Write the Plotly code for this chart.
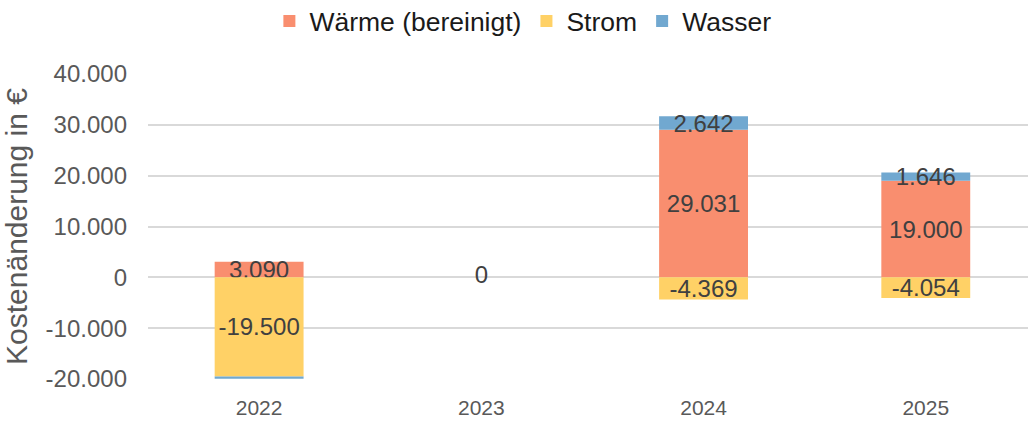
import plotly.graph_objects as go

years = ["2022", "2023", "2024", "2025"]
waerme = [3090, 0, 29031, 19000]
strom = [-19500, 0, -4369, -4054]
wasser = [-450, 0, 2642, 1646]
# labels shown in the bars ("" = no label)
waerme_lbl = ["3.090", "", "29.031", "19.000"]
strom_lbl = ["-19.500", "", "-4.369", "-4.054"]
wasser_lbl = ["", "", "2.642", "1.646"]
# the empty year only gets a "0"
zero_year = ["2023"]
zero_val = [0]
zero_lbl = ["0"]

y_ticks = [-20000, -10000, 0, 10000, 20000, 30000, 40000]
y_ticktext = ["-20.000", "-10.000", "0", "10.000", "20.000", "30.000", "40.000"]

col = {
    "Wärme (bereinigt)": "#F98E6F",
    "Strom": "#FFD166",
    "Wasser": "#71A8D0",
}

fig = go.Figure()
for name, vals, lbl in [("Wärme (bereinigt)", waerme, waerme_lbl),
                        ("Strom", strom, strom_lbl),
                        ("Wasser", wasser, wasser_lbl)]:
    fig.add_trace(go.Bar(
        x=years, y=vals, name=name, text=lbl,
        marker=dict(color=col[name], line=dict(width=0)),
        textposition="inside", insidetextanchor="middle",
        textfont=dict(size=24, color="#404040"),
        width=0.4, hoverinfo="skip",
    ))

fig.add_trace(go.Scatter(x=zero_year, y=zero_val, text=zero_lbl, mode="text",
                         textposition="middle center", showlegend=False,
                         textfont=dict(size=24, color="#404040"), hoverinfo="skip"))

fig.update_layout(
    width=1028, height=426,
    barmode="relative",
    font=dict(family="Liberation Sans, Arial, sans-serif"),
    plot_bgcolor="white", paper_bgcolor="white",
    margin=dict(l=148, r=0, t=74, b=47),
    uniformtext=dict(minsize=24, mode="show"),
    legend=dict(orientation="h", x=0.426, xanchor="center",
                yref="container", y=0.95, yanchor="middle",
                font=dict(size=26.5, color="#1a1a1a"), itemwidth=30,
                traceorder="normal"),
    xaxis=dict(range=[-0.5, 3.46], showgrid=False, showline=False, ticks="",
               automargin=False, ticklabelstandoff=14,
               tickfont=dict(size=21, color="#595959")),
    yaxis=dict(range=[-20000, 40000], tickvals=y_ticks, ticktext=y_ticktext,
               showgrid=True, gridcolor="#D9D9D9", gridwidth=2,
               zeroline=False, showline=False, ticks="",
               automargin=False, ticklabelstandoff=20,
               tickfont=dict(size=24, color="#595959"),
               title=dict(text="Kostenänderung in €", standoff=10,
                          font=dict(size=30, color="#595959"))),
)

# drop the default page margin so the figure sits at 0,0
fig.write_html("out.html", config={"displayModeBar": False},
               post_script="document.body.style.margin='0';")
